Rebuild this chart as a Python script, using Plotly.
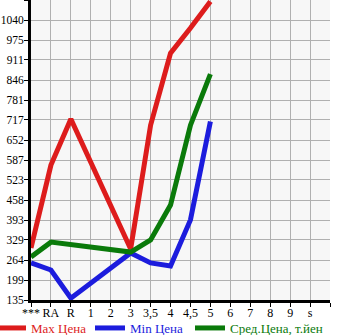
import plotly.graph_objects as go

categories = ["***", "RA", "R", "1", "2", "3", "3,5", "4", "4,5", "5", "6", "7", "8", "9", "s"]
max_price = [303, 571, 720, None, None, 300, 700, 933, 1014, 1100, None, None, None, None, None]
min_price = [255, 232, 141, None, None, 287, 255, 245, 394, 712, None, None, None, None, None]
avg_price = [274, 322, None, None, None, 290, 329, 442, 700, 865, None, None, None, None, None]
y_ticks = [135, 199, 264, 329, 393, 458, 523, 587, 652, 717, 781, 846, 911, 975, 1040]

xs = list(range(len(categories)))
font = "Liberation Serif, Times New Roman, serif"

fig = go.Figure()
series = [
    ("Max Цена", max_price, "#dd1c1c", "legend"),
    ("Min Цена", min_price, "#1c1cdd", "legend2"),
    ("Сред.Цена, т.йен", avg_price, "#0a7a0a", "legend3"),
]
for name, vals, col, lg in series:
    fig.add_trace(go.Scatter(
        x=xs, y=vals, name=name, mode="lines", connectgaps=True,
        line=dict(color=col, width=5), legend=lg,
    ))

step = (y_ticks[-1] - y_ticks[0]) / (len(y_ticks) - 1)
ymax = y_ticks[-1] + step

W, H = 345, 335
L, R, T, B = 31, 15, 0, 35
PW, PH = W - L - R, H - T - B

def legend_at(px, color):
    return dict(xref="paper", yref="paper", x=(px - L) / PW, xanchor="left",
                y=(H - B - 328) / PH, yanchor="middle",
                font=dict(size=13, family=font, color=color),
                bgcolor="rgba(0,0,0,0)", borderwidth=0, itemwidth=30)

fig.update_layout(
    width=W, height=H,
    margin=dict(l=L, r=R, t=T, b=B, autoexpand=False),
    paper_bgcolor="white", plot_bgcolor="#f7f7f7",
    font=dict(family=font, size=12, color="black"),
    showlegend=True,
    legend=legend_at(-9, "#dd1c1c"),
    legend2=legend_at(90, "#1c1cdd"),
    legend3=legend_at(190, "#0a7a0a"),
    xaxis=dict(range=[0, len(categories)], tickvals=xs + [len(categories)],
               ticktext=categories + [""], showgrid=True, gridcolor="#b0b0b0", gridwidth=1,
               showline=True, linecolor="black", linewidth=3, ticks="outside",
               ticklen=4, tickcolor="black", zeroline=False, tickfont=dict(size=12),
               ticklabelstandoff=-4),
    yaxis=dict(range=[y_ticks[0], ymax], tickvals=y_ticks + [ymax],
               ticktext=[str(v) for v in y_ticks] + [""], showgrid=True,
               gridcolor="#b0b0b0", gridwidth=1, showline=True, linecolor="black",
               linewidth=3, ticks="outside", ticklen=4, tickcolor="black",
               zeroline=False, tickfont=dict(size=11.5), ticklabelstandoff=-2),
)
fig.write_html("out.html")
